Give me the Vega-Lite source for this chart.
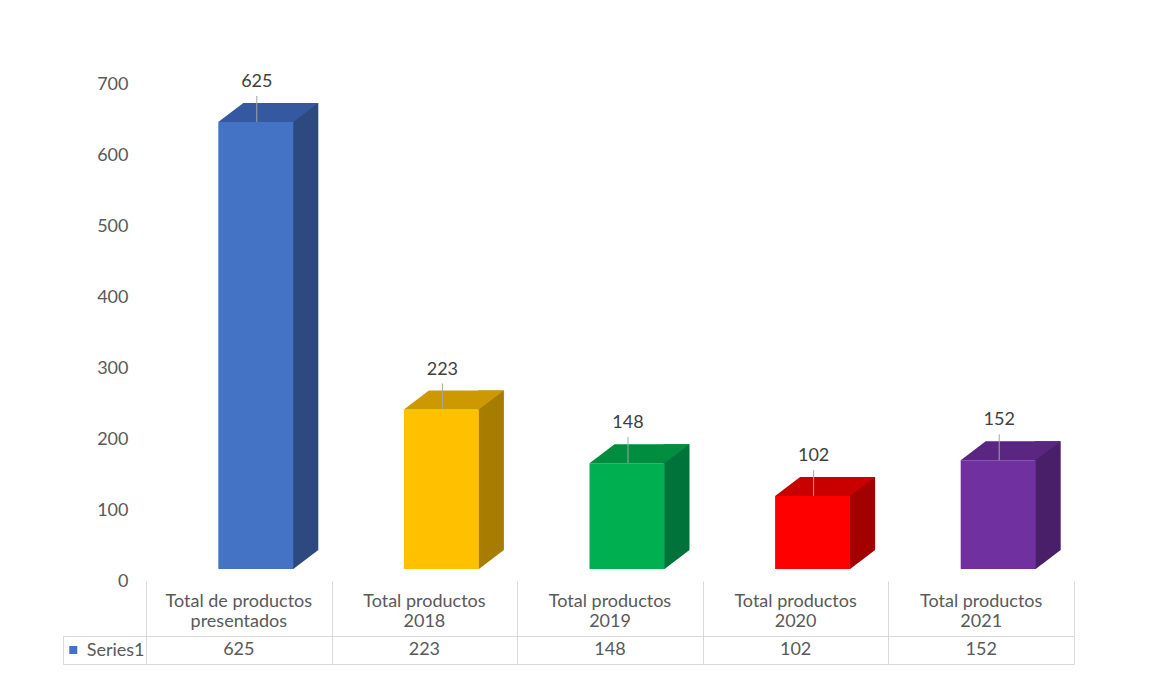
{
  "$schema": "https://vega.github.io/schema/vega-lite/v6.json",
  "padding": {"left": 62, "top": 72, "right": 100, "bottom": 11},
  "background": "white",
  "bounds": "flush",
  "spacing": 55,
  "config": {"view": {"stroke": null}, "font": "Lato"},
  "data": {
    "values": [
      {"cat": "Total de productos presentados", "value": 625, "series": "Series1"},
      {"cat": "Total productos 2018", "value": 223, "series": "Series1"},
      {"cat": "Total productos 2019", "value": 148, "series": "Series1"},
      {"cat": "Total productos 2020", "value": 102, "series": "Series1"},
      {"cat": "Total productos 2021", "value": 152, "series": "Series1"}
    ]
  },
  "vconcat": [
    {
      "width": 928,
      "height": 497,
      "resolve": {"scale": {"y": "independent", "color": "independent"}},
      "layer": [
        {
          "mark": {"type": "point", "opacity": 0},
          "encoding": {
            "x": {
              "field": "cat", "type": "nominal", "sort": null,
              "scale": {"type": "band", "paddingInner": 0, "paddingOuter": 0},
              "axis": {
                "orient": "bottom", "domain": false, "ticks": false, "grid": false, "title": null,
                "labelAngle": 0, "labelBaseline": "top", "labelPadding": 11, "labelLineHeight": 20,
                "labelFont": "Lato", "labelFontSize": 18, "labelColor": "#595959",
                "labelExpr": "[substring(datum.label, 0, indexof(datum.label, 'productos') + 9), substring(datum.label, indexof(datum.label, 'productos') + 10)]"
              }
            },
            "y": {
              "field": "value", "type": "quantitative",
              "scale": {"domain": [0, 700], "nice": false, "zero": false},
              "axis": {
                "values": [0, 100, 200, 300, 400, 500, 600, 700], "domain": false, "ticks": false, "grid": false,
                "title": null, "labelPadding": 18, "labelFont": "Lato", "labelFontSize": 18, "labelColor": "#595959"
              }
            }
          }
        },
        {
          "mark": {"type": "bar", "width": 26, "xOffset": 66.5, "yOffset": -19, "y2Offset": -19},
          "encoding": {
            "x": {"field": "cat", "type": "nominal", "sort": null},
            "y": {"field": "value", "type": "quantitative", "scale": {"domain": [-16.78, 678.1], "nice": false, "zero": false}, "axis": null},
            "y2": {"datum": 0},
            "color": {"field": "cat", "type": "nominal", "sort": null, "legend": null,
              "scale": {"range": ["#2C4A80", "#A67D00", "#00733A", "#A30000", "#4A1F6A"]}}
          }
        },
        {
          "mark": {"type": "point", "filled": true, "opacity": 1, "strokeWidth": 0, "xOffset": 54.5, "size": 2500,
            "shape": "M-0.04,0L0,0L1,-0.76L-0.04,-0.76Z"},
          "encoding": {
            "x": {"field": "cat", "type": "nominal", "sort": null},
            "y": {"datum": 0, "type": "quantitative", "scale": {"domain": [-16.78, 678.1], "nice": false, "zero": false}, "axis": null},
            "color": {"field": "cat", "type": "nominal", "sort": null, "legend": null,
              "scale": {"range": ["#2C4A80", "#A67D00", "#00733A", "#A30000", "#4A1F6A"]}}
          }
        },
        {
          "mark": {"type": "bar", "width": 75, "xOffset": 17},
          "encoding": {
            "x": {"field": "cat", "type": "nominal", "sort": null},
            "y": {"field": "value", "type": "quantitative", "scale": {"domain": [-16.78, 678.1], "nice": false, "zero": false}, "axis": null},
            "y2": {"datum": 0},
            "color": {"field": "cat", "type": "nominal", "sort": null, "legend": null,
              "scale": {"range": ["#4472C4", "#FFC000", "#00B050", "#FF0000", "#7030A0"]}}
          }
        },
        {
          "mark": {"type": "point", "filled": true, "opacity": 1, "strokeWidth": 0, "xOffset": 17, "size": 15625,
            "shape": "M-0.6,0L0.6,0L1,-0.304L-0.2,-0.304Z"},
          "encoding": {
            "x": {"field": "cat", "type": "nominal", "sort": null},
            "y": {"field": "value", "type": "quantitative", "scale": {"domain": [-16.78, 678.1], "nice": false, "zero": false}, "axis": null},
            "color": {"field": "cat", "type": "nominal", "sort": null, "legend": null,
              "scale": {"range": ["#3459A0", "#CC9A00", "#008D40", "#C80000", "#5A2682"]}}
          }
        },
        {
          "mark": {"type": "rule", "xOffset": 18, "y2Offset": -26, "color": "#a6a6a6", "strokeWidth": 1},
          "encoding": {
            "x": {"field": "cat", "type": "nominal", "sort": null},
            "y": {"field": "value", "type": "quantitative", "scale": {"domain": [-16.78, 678.1], "nice": false, "zero": false}, "axis": null},
            "y2": {"field": "value"}
          }
        },
        {
          "mark": {"type": "text", "xOffset": 18, "yOffset": -40, "baseline": "middle", "align": "center",
            "font": "Lato", "fontSize": 18, "color": "#404040"},
          "encoding": {
            "x": {"field": "cat", "type": "nominal", "sort": null},
            "y": {"field": "value", "type": "quantitative", "scale": {"domain": [-16.78, 678.1], "nice": false, "zero": false}, "axis": null},
            "text": {"field": "value", "type": "quantitative"}
          }
        }
      ]
    },
    {
      "width": 928,
      "height": 28,
      "view": {"stroke": "#d9d9d9", "strokeWidth": 1},
      "layer": [
        {
          "mark": {"type": "text", "font": "Lato", "fontSize": 18, "color": "#595959", "baseline": "middle"},
          "encoding": {
            "x": {
              "field": "cat", "type": "nominal", "sort": null,
              "scale": {"type": "band", "paddingInner": 0, "paddingOuter": 0},
              "axis": {
                "orient": "top", "title": null, "labels": false, "domain": false,
                "grid": true, "gridColor": "#d9d9d9", "gridWidth": 1,
                "ticks": true, "tickBand": "extent", "tickSize": 55, "tickColor": "#d9d9d9", "tickWidth": 1
              }
            },
            "y": {
              "field": "series", "type": "nominal",
              "scale": {"type": "band", "paddingInner": 0, "paddingOuter": 0},
              "axis": {
                "orient": "left", "offset": 83, "title": null, "grid": false,
                "domain": true, "domainColor": "#d9d9d9", "domainWidth": 1,
                "ticks": true, "tickBand": "extent", "tickSize": -83, "tickColor": "#d9d9d9", "tickWidth": 1,
                "labelPadding": 2, "labelFont": "Lato", "labelFontSize": 18, "labelColor": "#595959"
              }
            },
            "text": {"field": "value", "type": "quantitative"}
          }
        },
        {
          "data": {"values": [{"series": "Series1"}]},
          "mark": {"type": "point", "shape": "square", "filled": true, "opacity": 1, "size": 64, "xOffset": -165.5, "color": "#4472C4"},
          "encoding": {
            "x": {"datum": "Total de productos presentados"},
            "y": {"field": "series", "type": "nominal"}
          }
        }
      ]
    }
  ]
}
